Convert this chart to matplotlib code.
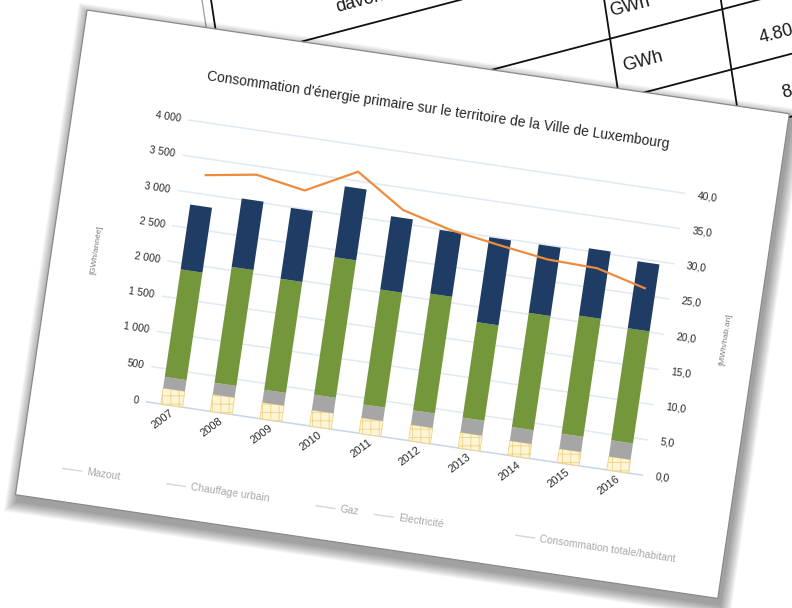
import matplotlib
matplotlib.use("Agg")
import matplotlib.pyplot as plt
from matplotlib.patches import Rectangle
from matplotlib.transforms import Affine2D
import numpy as np

plt.rcParams['font.family'] = ['Liberation Sans', 'DejaVu Sans']
plt.rcParams['hatch.linewidth'] = 0.6

title = "Consommation d'énergie primaire sur le territoire de la Ville de Luxembourg"
years = ['2007', '2008', '2009', '2010', '2011', '2012', '2013', '2014', '2015', '2016']

# GWh per year, stacked bottom to top
mazout = [225, 240, 230, 225, 220, 225, 220, 205, 195, 190]
chauffage_urbain = [160, 165, 180, 220, 190, 205, 210, 195, 215, 230]
gaz = [1525, 1645, 1575, 1950, 1630, 1655, 1355, 1620, 1675, 1590]
electricite = [920, 970, 1005, 1005, 1040, 905, 1205, 970, 955, 950]

# MWh per inhabitant (right axis)
conso_hab = [32.7, 33.8, 32.6, 36.3, 31.9, 30.1, 29.0, 28.0, 27.8, 26.0]

left_ticks = [0, 500, 1000, 1500, 2000, 2500, 3000, 3500, 4000]
right_ticks = [0, 5, 10, 15, 20, 25, 30, 35, 40]
legend_names = ['Mazout', 'Chauffage urbain', 'Gaz', 'Electricité',
                'Consommation totale/habitant']

colors = {'mazout': '#fdf5d6', 'chauffage': '#a6a6a6', 'gaz': '#74973c',
          'elec': '#1f3d64', 'line': '#ef8b3c'}

fig = plt.figure(figsize=(7.92, 6.08), dpi=100)
ax = fig.add_axes([0, 0, 1, 1])
ax.set_xlim(0, 792)
ax.set_ylim(608, 0)
ax.set_autoscale_on(False)
ax.axis('off')

# ---- sheet lying underneath (table page) ----
back = Affine2D(np.array([[0.967, 0.15, 232.0],
                          [-0.254, 0.989, 138.0],
                          [0.0, 0.0, 1.0]])) + ax.transData
ax.add_patch(Rectangle((-9, -400), 900, 530, transform=back, facecolor='white',
                       edgecolor='none', zorder=1))
ax.plot([-9, -9], [-400, 130], color='#9a9a9a', lw=0.9, transform=back, zorder=2)
for v in [-160, -76, 0, 61, 122]:
    ax.plot([0, 900], [v, v], color='#111111', lw=1.3, transform=back, zorder=2)
for u in [0, 391, 507]:
    ax.plot([u, u], [-400, 130], color='#111111', lw=1.3, transform=back, zorder=2)
back_cells = [('davon', 148, -100, 'center'), ('GWh', 415, -26, 'center'),
              ('GWh', 420, 30, 'center'), ('4.80', 540, 38, 'left'),
              ('8', 554, 97, 'left')]
for txt, u, v, ha in back_cells:
    ax.text(u, v, txt, transform=back, ha=ha, va='center', rotation=14.7,
            rotation_mode='anchor', fontsize=13, color='#1a1a1a', zorder=2.5)

# ---- chart page on top ----
angle = 8.4
page_aff = Affine2D().rotate_deg(angle).translate(87, 10)
page = page_aff + ax.transData
page_w, page_h = 710, 490

# soft drop shadow
for k in range(12, 0, -1):
    ax.add_patch(Rectangle((3 - k, 6 - k), page_w + 2 * k, page_h + 2 * k,
                           transform=page, facecolor='black', edgecolor='none',
                           alpha=0.035, zorder=3))
ax.add_patch(Rectangle((0, 0), page_w, page_h, transform=page, facecolor='white',
                       edgecolor='#8a8a8a', lw=0.9, zorder=4))

# plot area inside the page: x in categories (0..10), y in GWh (0..4000)
plot_x0, plot_y0, plot_w, plot_h = 116.5, 379, 501, 285
chart_aff = Affine2D().scale(plot_w / 10, -plot_h / 4000).translate(plot_x0, plot_y0)
chart = chart_aff + page
right_tr = Affine2D().scale(1, 100) + chart

for t in left_ticks:
    ax.plot([0, 10], [t, t], color='#c5d4e8' if t == 0 else '#e1e9f3',
            lw=1.1, transform=chart, zorder=5)

x = np.arange(len(years)) + 0.5
w = 0.44
b1 = np.array(mazout)
b2 = b1 + np.array(chauffage_urbain)
b3 = b2 + np.array(gaz)
ax.bar(x, mazout, width=w, color=colors['mazout'], edgecolor='#efd486',
       hatch='++', lw=0.6, transform=chart, zorder=6)
ax.bar(x, chauffage_urbain, width=w, bottom=b1, color=colors['chauffage'],
       lw=0, transform=chart, zorder=6)
ax.bar(x, gaz, width=w, bottom=b2, color=colors['gaz'], lw=0,
       transform=chart, zorder=6)
ax.bar(x, electricite, width=w, bottom=b3, color=colors['elec'], lw=0,
       transform=chart, zorder=6)

ax.plot(x, conso_hab, color=colors['line'], lw=1.6, transform=right_tr,
        solid_joinstyle='round', zorder=7)

# tick labels
for t in left_ticks:
    ax.text(-0.16, t, '{:,}'.format(t).replace(',', ' '), transform=chart,
            ha='right', va='center', rotation=-angle, rotation_mode='anchor',
            fontsize=7.5, color='#2a2a2a', zorder=8)
for t in right_ticks:
    ax.text(10.26, t, '{:.1f}'.format(t).replace('.', ','), transform=right_tr,
            ha='left', va='center', rotation=-angle, rotation_mode='anchor',
            fontsize=7.5, color='#2a2a2a', zorder=8)
for xi, yr in zip(x, years):
    ax.text(xi + 0.03, -90, yr, transform=chart, ha='right', va='center',
            rotation=45 - angle, rotation_mode='anchor', fontsize=8,
            color='#2a2a2a', zorder=8)

ax.text(362, 48, title, transform=page, ha='center', va='center',
        rotation=-angle, rotation_mode='anchor', fontsize=10,
        color='#262626', zorder=8)
ax.text(44, 236, '[GWh/année]', transform=page, ha='center', va='center',
        rotation=90 - angle, rotation_mode='anchor', fontsize=6,
        color='#7a7a7a', zorder=8)
ax.text(680, 233, '[MWh/hab.an]', transform=page, ha='center', va='center',
        rotation=90 - angle, rotation_mode='anchor', fontsize=6,
        color='#7a7a7a', zorder=8)

# legend row
legend_x = [67, 172, 323, 382, 525]
legend_y = 457
for name, lx in zip(legend_names, legend_x):
    ax.plot([lx - 24, lx - 5], [legend_y, legend_y], color='#d6d6d6', lw=1,
            transform=page, zorder=8)
    ax.text(lx, legend_y, name, transform=page, ha='left', va='center',
            rotation=-angle, rotation_mode='anchor', fontsize=7.5,
            color='#a8a8a8', zorder=8)

fig.savefig('out.png', dpi=100)
